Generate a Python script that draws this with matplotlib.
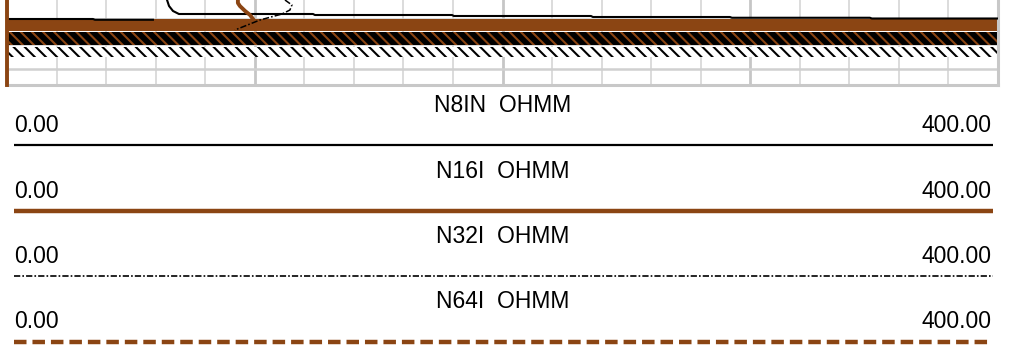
import numpy as np
import matplotlib
matplotlib.use('Agg')
import matplotlib.pyplot as plt

# header: curve names, unit, scale
curve_names = ['N8IN', 'N16I', 'N32I', 'N64I']
curve_unit = 'OHMM'
scale_left = [0.0, 0.0, 0.0, 0.0]
scale_right = [400.0, 400.0, 400.0, 400.0]

# track depth window
depth_top, depth_bottom = 1999.62, 2001.32

nan = np.nan
# N8IN (black solid)
n8in_value = [64.6, 65.4, 67.0, 69.4, 123.5, 124.3, 179.6, 180.4, 235.7, 236.5,
              291.8, 292.6, 348.3, 349.1, 400.0, nan, 0.4, 34.7, 35.5, 58.9]
n8in_depth = [1999.62, 1999.74, 1999.84, 1999.90, 1999.90, 1999.92, 1999.92, 1999.94,
              1999.94, 1999.96, 1999.96, 1999.975, 1999.975, 1999.99, 1999.99, nan,
              2000.00, 2000.00, 2000.015, 2000.015]
# N16I (brown solid)
n16i_value = [93.2, 93.2, 94.0, 96.1, 98.1, 99.3, nan, 0.0, 0.0]
n16i_depth = [1999.62, 1999.68, 1999.74, 1999.84, 1999.92, 2000.00, nan, 1999.62, 2001.32]
# N32I (black dash-dot)
n32i_value = [112.2, 115.0, 114.2, 111.0, 102.1, 92.0]
n32i_depth = [1999.62, 1999.72, 1999.82, 1999.90, 2000.02, 2000.22]

# dense zones where the curves sweep the full scale
band_top = [2000.00, 2000.26, 2000.56]
band_base = [2000.24, 2000.52, 2000.76]

brown = '#8B4513'

plt.rcParams['font.family'] = ['Liberation Sans', 'DejaVu Sans']
plt.rcParams['lines.scale_dashes'] = False
plt.rcParams['hatch.linewidth'] = 1.5

fig = plt.figure(figsize=(10.1, 3.48), dpi=100)

# header area in pixel coords
hdr = fig.add_axes([0, 0, 1, 1])
hdr.set_xlim(0, 1010)
hdr.set_ylim(348, 0)
hdr.axis('off')

dashdot = (0, (4.5, 1.5, 1.2, 1.5))
line_styles = [
    dict(color='black', lw=1.6, ls='-'),
    dict(color=brown, lw=3.2, ls='-'),
    dict(color='black', lw=1.2, ls=dashdot),
    dict(color=brown, lw=3.2, ls=(0, (9.0, 4.3))),
]
for i, name in enumerate(curve_names):
    y0 = 65.5 * i
    hdr.text(503, 112 + y0, name + '  ' + curve_unit, ha='center', va='baseline', fontsize=16.5)
    hdr.text(14, 132 + y0, '%.2f' % scale_left[i], ha='left', va='baseline', fontsize=16.5)
    hdr.text(992, 132 + y0, '%.2f' % scale_right[i], ha='right', va='baseline', fontsize=16.5)
    hdr.plot([14, 993], [145 + y0, 145 + y0], solid_capstyle='butt', **line_styles[i])

# log track
ax = fig.add_axes([7 / 1010, 1 - 85 / 348, 991 / 1010, 85 / 348])
ax.set_xlim(scale_left[0], scale_right[0])
ax.set_ylim(depth_bottom, depth_top)
ax.set_xticks([0, 100, 200, 300, 400])
ax.set_xticks(np.arange(0, 401, 20), minor=True)
ax.set_yticks([2000.0, 2000.5, 2001.0])
ax.tick_params(which='both', length=0, labelbottom=False, labelleft=False)
ax.grid(which='minor', axis='x', color='#d6d6d6', lw=1.2)
ax.grid(which='major', axis='x', color='#c6c6c6', lw=2.0)
ax.grid(which='major', axis='y', color='#d0d0d0', lw=1.8)
ax.set_axisbelow(True)
for s in ['top', 'left']:
    ax.spines[s].set_visible(False)
for s in ['right', 'bottom']:
    ax.spines[s].set_color('#c8c8c8')
    ax.spines[s].set_linewidth(2.2)

xs = [scale_left[0], scale_right[0]]
ax.fill_between(xs, band_top[0], band_base[0], color=brown, lw=0, zorder=2)
ax.fill_between(xs, band_top[1], band_base[1], facecolor='black', edgecolor=brown,
                hatch='\\\\\\', lw=0, zorder=2)
ax.fill_between(xs, band_top[2], band_base[2], facecolor='white', edgecolor='black',
                hatch='\\\\\\', lw=0, zorder=2)

ax.plot(n8in_value, n8in_depth, color='black', lw=1.5, zorder=3)
ax.plot(n16i_value, n16i_depth, color=brown, lw=2.8, zorder=3, clip_on=False)
ax.plot(n32i_value, n32i_depth, color='black', lw=1.1, ls=dashdot, zorder=3)

fig.savefig('out.png', dpi=100)
